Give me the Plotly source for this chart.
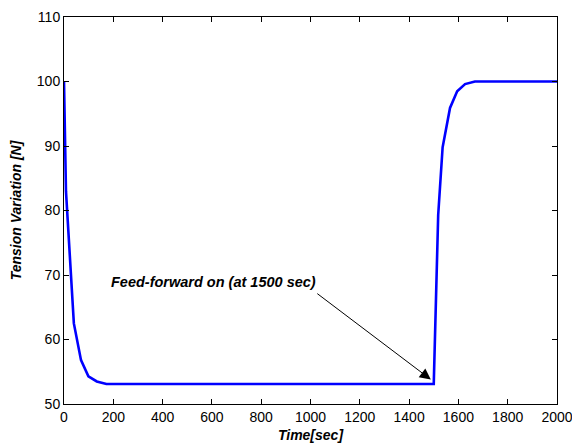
import plotly.graph_objects as go

# Data
time_sec = [0, 8, 40, 69, 99, 133, 172, 1500, 1518, 1536, 1566, 1595, 1627, 1667, 2000]
tension = [100, 83, 62.5, 56.8, 54.3, 53.5, 53.1, 53.1, 79.3, 89.8, 95.9, 98.5, 99.6, 100, 100]

x_ticks = list(range(0, 2001, 200))
y_ticks = list(range(50, 111, 10))

FONT = "Liberation Sans, Arial, sans-serif"

fig = go.Figure()
fig.add_trace(go.Scatter(x=time_sec, y=tension, mode="lines",
                         line=dict(color="#0000ff", width=2.6), showlegend=False))

axis_common = dict(showgrid=False, zeroline=False, showline=True, linecolor="black",
                   linewidth=1, mirror="ticks", ticks="inside", ticklen=5,
                   tickcolor="black", tickwidth=1, automargin=False,
                   ticklabeloverflow="allow",
                   tickfont=dict(family=FONT, size=14, color="black"))

fig.update_xaxes(range=[0, 2000], tickvals=x_ticks, **axis_common,
                 title=dict(text="<b><i>Time[sec]</i></b>", standoff=6,
                            font=dict(family=FONT, size=14, color="black")))
fig.update_yaxes(range=[50, 110], tickvals=y_ticks, **axis_common,
                 title=dict(text="<b><i>Tension Variation [N]</i></b>", standoff=11,
                            font=dict(family=FONT, size=14, color="black")))

# arrow
fig.add_annotation(x=1488, y=53.8, xref="x", yref="y", ax=-115, ay=-87,
                   text="", showarrow=True, arrowhead=2, arrowsize=2.2,
                   arrowwidth=1, arrowcolor="black")

pw, ph = 572 - 64 - 15, 447 - 17 - 43
# text
fig.add_annotation(x=(108.5 - 64) / pw, y=(447 - 43 - 282) / ph, xref="paper", yref="paper",
                   text="<b><i>Feed-forward on (at 1500 sec)</i></b>",
                   showarrow=False, font=dict(family=FONT, size=14.5, color="black"),
                   xanchor="left", yanchor="middle")

fig.update_layout(width=572, height=447, margin=dict(l=64, r=15, t=17, b=43),
                  plot_bgcolor="white", paper_bgcolor="white")

fig.write_html("out.html", config={"displayModeBar": False},
               post_script="document.body.style.margin='0';document.body.style.overflow='hidden';")
